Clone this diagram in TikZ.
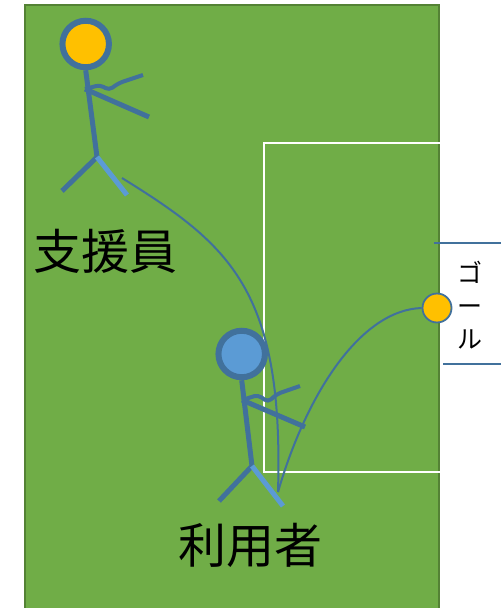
\documentclass[tikz,border=0pt]{standalone}
\usepackage{fontspec}
\newfontfamily\jpfont{Noto Sans CJK JP}
\definecolor{fieldgreen}{HTML}{70AD47}
\definecolor{fieldedge}{HTML}{548235}
\definecolor{strokeblue}{HTML}{41719C}
\definecolor{lightblue}{HTML}{5B9BD5}
\definecolor{ballyellow}{HTML}{FFC000}
\begin{document}
\begin{tikzpicture}[x=1pt,y=-1pt,
  limb/.style={strokeblue, line width=5pt},
  limblight/.style={lightblue, line width=5pt},
  armhook/.style={strokeblue, line width=4pt, rounded corners=4pt},
  head/.style={circle, draw=strokeblue, line width=6pt, minimum size=46.5pt, inner sep=0pt},
  ball/.style={circle, draw=strokeblue, line width=1.8pt, fill=ballyellow, minimum size=29pt, inner sep=0pt},
  runline/.style={strokeblue, line width=2pt},
  courtline/.style={white, line width=2.3pt},
  goalpost/.style={strokeblue, line width=2pt},
  biglabel/.style={font=\jpfont\fontsize{48}{48}\selectfont, inner sep=0pt},
]
\useasboundingbox (0,0) rectangle (501,608);
\clip (0,0) rectangle (501,608);

% pitch
\fill[white] (0,0) rectangle (501,608);
\draw[fill=fieldgreen, draw=fieldedge, line width=2pt] (25,5) rectangle (439,620);

% penalty area
\draw[courtline] (440,143) -- (264,143) -- (264,472) -- (440,472);

% goal mouth
\coordinate (postTopL) at (434,243);
\coordinate (postTopR) at (501,243);
\coordinate (postBotL) at (443,364);
\coordinate (postBotR) at (501,364);
\draw[goalpost] (postTopL) -- (postTopR);
\draw[goalpost] (postBotL) -- (postBotR);
\node[font=\jpfont\fontsize{25}{33}\selectfont, align=center, inner sep=0pt] (goaltext) at (470,305) {ゴ\\ー\\ル};

% supporter (top figure)
\node[head, fill=ballyellow] (headA) at (85.7,44) {};
\coordinate (hipA) at (97,157);
\draw[limb] (headA.south) -- (hipA);
\coordinate (footAL) at (62,191);
\coordinate (footAR) at (127,195);
\draw[limb] (hipA) -- (footAL);
\draw[limblight] (hipA) -- (footAR);
\coordinate (shoulderA) at (85,89);
\draw[limb] (shoulderA) -- (149,117);
\draw[armhook] (shoulderA) -- (100,85) -- (109,90) -- (119,83) -- (143,75);

% user (bottom figure)
\node[head, fill=lightblue] (headB) at (241.7,354) {};
\coordinate (hipB) at (252,466);
\draw[limb] (headB.south) -- (hipB);
\coordinate (footBL) at (219,501);
\coordinate (footBR) at (283,506);
\draw[limb] (hipB) -- (footBL);
\draw[limblight] (hipB) -- (footBR);
\coordinate (shoulderB) at (242,400);
\draw[limb] (shoulderB) -- (305,427);
\draw[armhook] (shoulderB) -- (258,395) -- (268,402) -- (277,394) -- (300,386);

% ball at the goal
\node[ball] (goal) at (437,308) {};

% movement paths
\coordinate (startA) at (122,178);
\coordinate (meet) at (278,492);
\draw[runline] (startA) .. controls (230,245) and (284,290) .. (meet);
\draw[runline] (goal.west) .. controls (360,310) and (306,395) .. (meet);

% labels
\node[biglabel] (labelA) at (105,251) {支援員};
\node[biglabel] (labelB) at (250,545) {利用者};
\end{tikzpicture}
\end{document}
